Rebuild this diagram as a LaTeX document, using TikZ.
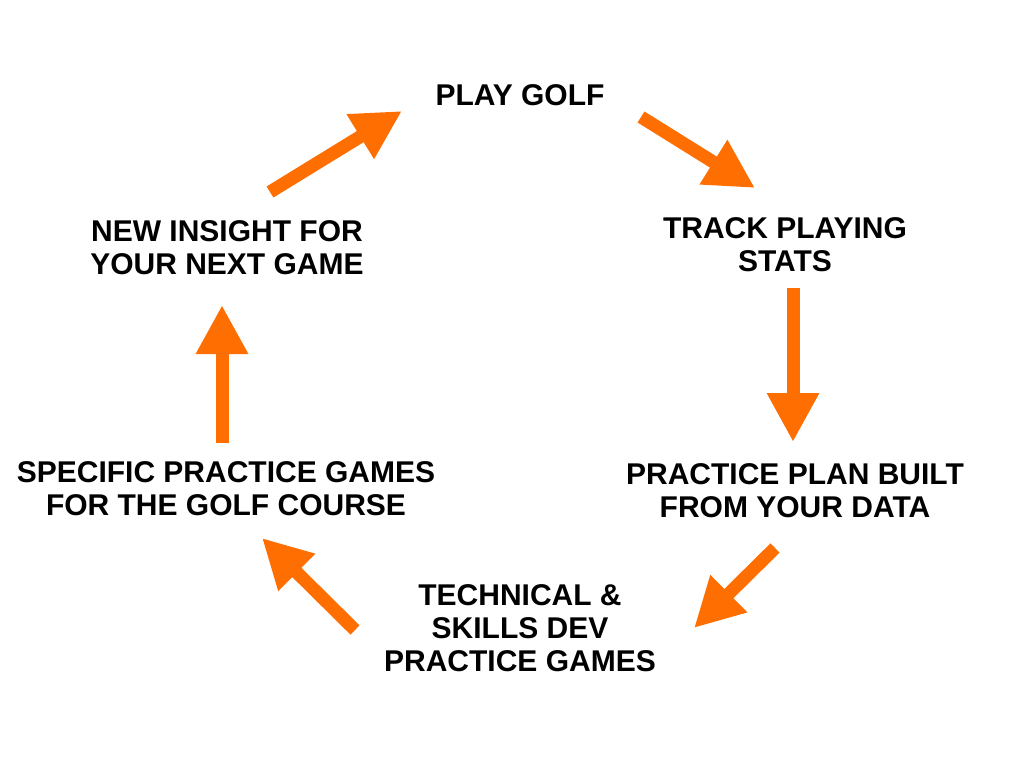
\documentclass[tikz,border=0pt]{standalone}
\usepackage{fontspec}
\setmainfont{Liberation Sans}
\usetikzlibrary{arrows.meta}
\definecolor{golforange}{RGB}{255,110,0}
\tikzset{
    %Define style for the stage texts
    stage/.style={
           inner sep=0pt,
           align=center,
           font=\bfseries\fontsize{30}{33}\selectfont},
    % Define arrow style
    flow/.style={
           -{Triangle[width=49pt,length=49pt]},
           line width=13pt,
           draw=golforange}
}

\begin{document}
\begin{tikzpicture}[x=1pt,y=-1pt]
		\useasboundingbox (0,0) rectangle (1024,768);
		\node[stage] (golf) at (520,95) {PLAY GOLF};
		\node[stage] (track) at (785,245) {TRACK PLAYING\\STATS};
		\node[stage] (plan) at (795,491) {PRACTICE PLAN BUILT\\FROM YOUR DATA};
		\node[stage] (tech) at (520,628) {TECHNICAL \&\\SKILLS DEV\\PRACTICE GAMES};
		\node[stage] (spec) at (226,489) {SPECIFIC PRACTICE GAMES\\FOR THE GOLF COURSE};
		\node[stage] (insight) at (227,248) {NEW INSIGHT FOR\\YOUR NEXT GAME};
		\draw[flow] ([shift={(121,22)}]golf.center) -- ([shift={(-30,-57)}]track.center);
		\draw[flow] ([shift={(8,43)}]track.center) -- ([shift={(-2,-49)}]plan.center);
		\draw[flow] ([shift={(-20,57)}]plan.center) -- ([shift={(174,0)}]tech.center);
		\draw[flow] ([shift={(-165,2)}]tech.center) -- ([shift={(36,49)}]spec.center);
		\draw[flow] ([shift={(-4,-46)}]spec.center) -- ([shift={(-5,57)}]insight.center);
		\draw[flow] ([shift={(43,-56)}]insight.center) -- ([shift={(-118,16)}]golf.center);
	\end{tikzpicture}
\end{document}
